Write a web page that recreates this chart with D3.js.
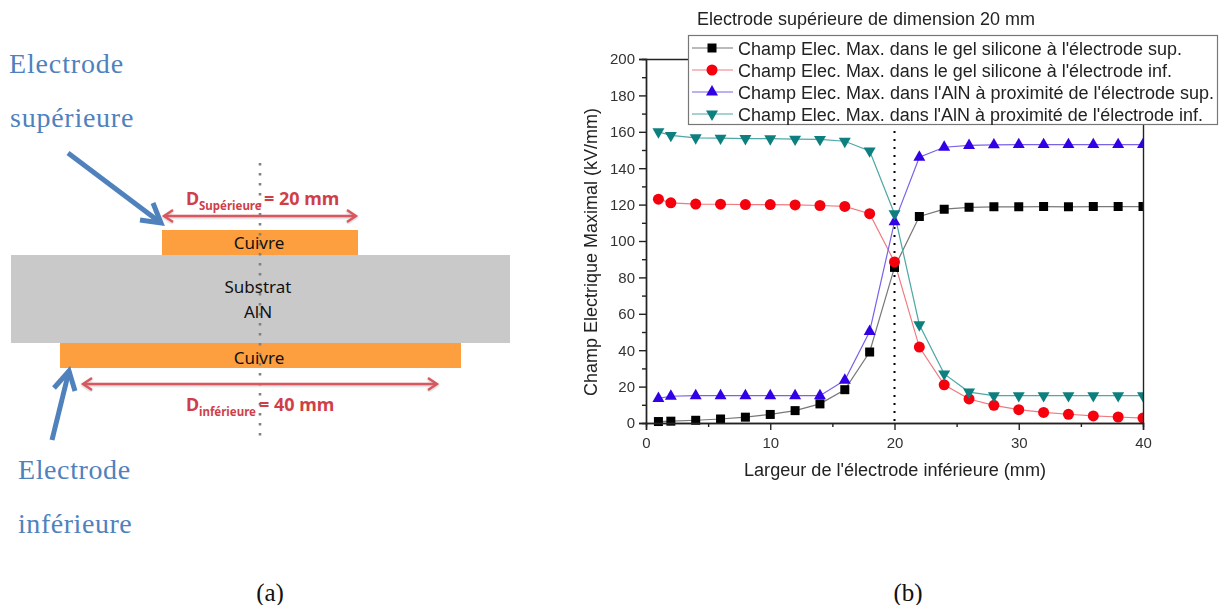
<!DOCTYPE html>
<html><head><meta charset="utf-8">
<script src="https://cdn.jsdelivr.net/npm/d3@7"></script>
<style>
html,body{margin:0;padding:0;background:#fff}
svg{display:block}
.ax text{font-family:"Liberation Sans",Arial,sans-serif;font-size:15px;fill:#333}
.ax path,.ax line{stroke:#222;stroke-width:1.4}
</style></head><body>
<svg id="c" width="1220" height="605"></svg>
<script>
const widths=[1,2,4,6,8,10,12,14,16,18,20,22,24,26,28,30,32,34,36,38,40];
const gelSup=[0.8,1,1.5,2.2,3.2,4.7,6.8,10.5,18.3,39,85.5,113.5,117.5,118.5,118.8,118.8,118.9,118.8,118.9,118.9,118.9];
const gelInf=[123,121,120.3,120.2,120,120,119.8,119.5,119,115,88.5,41.7,21,13.2,9.7,7.3,5.8,4.8,3.9,3.3,2.7];
const ainSup=[13.5,14.7,15,15,15,15,15,15,23.5,50.3,110.5,146,151.5,152.5,152.8,153,153,153,153,153,153];
const ainInf=[160,158,156.7,156.5,156.3,156.2,156,155.8,154.8,149.5,115,54,27,17,15,15,15,15,15,15,15];
const seriesNames=["Champ Elec. Max. dans le gel silicone à l'électrode sup.","Champ Elec. Max. dans le gel silicone à l'électrode inf.","Champ Elec. Max. dans l'AlN à proximité de l'électrode sup.","Champ Elec. Max. dans l'AlN à proximité de l'électrode inf."];
const seriesValues=[gelSup,gelInf,ainSup,ainInf];
const lineColors=["#777","#f07a80","#7a62e8","#4fa8a4"];
const markColors=["#000","#f5000f","#3300e6","#0a7f7f"];
const markTypes=[d3.symbolSquare,d3.symbolCircle,d3.symbolTriangle,d3.symbolTriangle];
const xTicks=[0,10,20,30,40], yTicks=[0,20,40,60,80,100,120,140,160,180,200];

const svg=d3.select("#c");
const defs=svg.append("defs");
defs.append("filter").attr("id","soft").append("feGaussianBlur").attr("stdDeviation",0.45);
defs.append("filter").attr("id","shadow").append("feDropShadow").attr("dx",0).attr("dy",1).attr("stdDeviation",0.9).attr("flood-color","#888").attr("flood-opacity",.5);
defs.append("clipPath").attr("id","plot").append("rect").attr("x",640).attr("y",50).attr("width",503.5).attr("height",378);

/* ---------- panel (a) ---------- */
const a=svg.append("g");
const blue="#4f81bd", red="#cf3f4a", redLine="#d9595f";
a.append("rect").attr("x",11).attr("y",255).attr("width",499).attr("height",88).attr("fill","#c9c9c9");
a.append("rect").attr("x",162).attr("y",230).attr("width",196).attr("height",25).attr("fill","#fd9f3e");
a.append("rect").attr("x",60).attr("y",343).attr("width",401).attr("height",25).attr("fill","#fd9f3e");
a.append("line").attr("x1",260).attr("x2",260).attr("y1",163).attr("y2",440).attr("stroke","#808080").attr("stroke-width",2.6).attr("stroke-dasharray","2.6 7.4");

function sans(t,x,y,s,fill,w,anchor){return a.append("text").attr("x",x).attr("y",y).text(t).attr("font-family","'Noto Sans',sans-serif").attr("font-size",s).attr("fill",fill).attr("font-weight",w||400).attr("text-anchor",anchor||"middle");}
sans("Cuivre",259,249,17,"#111");
sans("Cuivre",259,364,17,"#111");
sans("Substrat",258,293,17,"#111");
sans("AlN",258,318,17,"#111");

function dbl(x1,x2,y){
  const g=a.append("g").attr("fill","none").attr("stroke",redLine).attr("stroke-width",2.4).attr("filter","url(#shadow)");
  g.append("line").attr("x1",x1).attr("x2",x2).attr("y1",y).attr("y2",y);
  g.append("path").attr("d",`M${x1+9},${y-6}L${x1},${y}L${x1+9},${y+6}M${x2-9},${y-6}L${x2},${y}L${x2-9},${y+6}`);
}
dbl(164,356,216); dbl(83,437,384);

function dim(x,y,sub,rest,restX){
  sans("D",x,y,18,red,700,"start");
  sans(sub,x+13,y+5,11.5,red,700,"start");
  sans(rest,restX,y,18,red,700,"start");
}
dim(186,205,"Supérieure","= 20 mm",264);
dim(186,411,"inférieure","= 40 mm",259);

function bigArrow(x1,y1,x2,y2,l1,l2){
  const g=a.append("g").attr("fill","none").attr("stroke",blue).attr("stroke-width",5).attr("filter","url(#soft)");
  g.append("line").attr("x1",x1).attr("y1",y1).attr("x2",x2).attr("y2",y2);
  g.append("path").attr("stroke-linejoin","miter").attr("d",`M${l1[0]},${l1[1]}L${x2},${y2}L${l2[0]},${l2[1]}`);
}
bigArrow(68,153,161,223,[153,203],[140,220]);
bigArrow(52,440,69,371,[54,388],[75,391]);

function serif(t,x,y,s,fill,anchor){return svg.append("text").attr("x",x).attr("y",y).text(t).attr("font-family","'Liberation Serif',serif").attr("font-size",s).attr("fill",fill).attr("text-anchor",anchor||"start");}
serif("Electrode",9,73,28,blue).attr("letter-spacing",0.85);
serif("supérieure",10,127,28,blue).attr("letter-spacing",0.75);
serif("Electrode",18,479,28,blue).attr("letter-spacing",0.6);
serif("inférieure",18,533,28,blue).attr("letter-spacing",0.55);
serif("(a)",270,601,25,"#111","middle");
serif("(b)",908,601,25,"#111","middle");

/* ---------- panel (b) ---------- */
const x=d3.scaleLinear().domain([0,40]).range([646,1143]);
const y=d3.scaleLinear().domain([0,200]).range([423,59]);
const b=svg.append("g").attr("filter","url(#soft)");

b.append("line").attr("x1",x(20)).attr("x2",x(20)).attr("y1",y(200)).attr("y2",y(0)).attr("stroke","#000").attr("stroke-width",2).attr("stroke-dasharray","2 6");

const lineGen=d3.line().x((d,i)=>x(widths[i])).y(d=>y(d));
const plot=b.append("g").attr("clip-path","url(#plot)");
seriesValues.forEach((vals,k)=>{
  plot.append("path").attr("d",lineGen(vals)).attr("fill","none").attr("stroke",lineColors[k]).attr("stroke-width",1.2);
});
const sizes=[81,95,62,62];
seriesValues.forEach((vals,k)=>{
  plot.selectAll(null).data(vals).join("path")
    .attr("d",d3.symbol().type(markTypes[k]).size(sizes[k]))
    .attr("fill",markColors[k])
    .attr("transform",(d,i)=>`translate(${x(widths[i])},${y(d)})${k===3?" rotate(180)":""}`);
});

const xAxis=d3.axisBottom(x).tickValues(xTicks).tickSize(7).tickPadding(7);
const yAxis=d3.axisLeft(y).tickValues(yTicks).tickSize(7).tickPadding(4);
b.append("g").attr("class","ax").attr("transform",`translate(0,${y(0)})`).call(xAxis);
b.append("g").attr("class","ax").attr("transform",`translate(${x(0)},0)`).call(yAxis);
b.append("g").attr("class","ax").attr("transform",`translate(0,${y(0)})`).call(d3.axisBottom(x).tickValues([5,15,25,35]).tickSize(4).tickFormat(""));
b.append("g").attr("class","ax").attr("transform",`translate(${x(0)},0)`).call(d3.axisLeft(y).tickValues(yTicks.slice(0,-1).map(v=>v+10)).tickSize(4).tickFormat(""));
b.append("g").attr("class","ax").attr("transform",`translate(0,${y(200)})`).call(d3.axisTop(x).tickValues([]).tickSizeOuter(0));
b.append("g").attr("class","ax").attr("transform",`translate(${x(40)},0)`).call(d3.axisRight(y).tickValues([]).tickSizeOuter(0));

function label(t,px,py,s,len){return b.append("text").attr("x",px).attr("y",py).text(t).attr("font-family","'Liberation Sans',Arial,sans-serif").attr("font-size",s).attr("fill","#222").attr("textLength",len).attr("lengthAdjust","spacingAndGlyphs");}
label("Electrode supérieure de dimension 20 mm",697,24.5,17.8,338);
label("Largeur de l'électrode inférieure (mm)",744,476,18,302);
label("Champ Electrique Maximal (kV/mm)",0,0,18,288).attr("transform","translate(597,396) rotate(-90)");

/* legend */
const legendLens=[444,434,476,465];
const lg=b.append("g");
lg.append("rect").attr("x",688.5).attr("y",35.5).attr("width",529).attr("height",89).attr("fill","#fff").attr("stroke","#777").attr("stroke-width",1.2);
seriesNames.forEach((n,k)=>{
  const ly=49+k*22;
  lg.append("line").attr("x1",692).attr("x2",733).attr("y1",ly-1).attr("y2",ly-1).attr("stroke",lineColors[k]).attr("stroke-width",1.2);
  lg.append("path").attr("d",d3.symbol().type(markTypes[k]).size(sizes[k]))
    .attr("fill",markColors[k]).attr("transform",`translate(712,${ly-1})${k===3?" rotate(180)":""}`);
  label(n,738,ly+5.5,18,legendLens[k]);
});
</script>
</body></html>
